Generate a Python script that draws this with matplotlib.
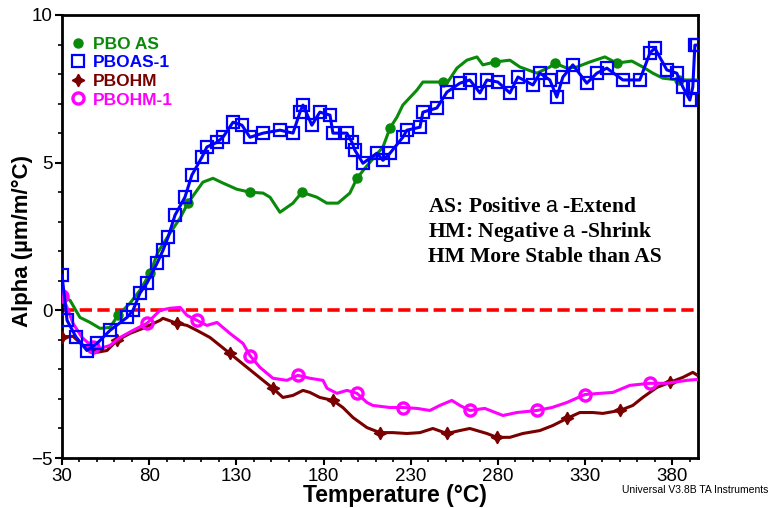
import numpy as np
import matplotlib
matplotlib.use("Agg")
import matplotlib.pyplot as plt
from matplotlib.ticker import MultipleLocator

# =========================
# DATA
# =========================
pbo_as_T = [30, 34.6, 40.3, 46.1, 51.8, 57.5, 62.1, 69.0, 74.7, 80.5, 85.0, 91.9, 97.7,
            102.2, 110.8, 116.6, 122.3, 130.3, 137.8, 145.3, 149.3, 155.0, 162.5, 167.6,
            176.2, 181.9, 188.3, 195.1, 199.2, 203.7, 214.1, 218.1, 222.1, 225.5, 233.6,
            237.0, 248.5, 250.8, 256.5, 262.2, 268.0, 271.4, 278.3, 286.9, 292.6, 302.4,
            309.8, 312.7, 319.6, 325.3, 332.8, 341.4, 348.2, 356.8, 363.1, 368.9, 374.6,
            384.0, 394.5]
pbo_as_A = [0.45, 0.34, -0.24, -0.41, -0.61, -0.58, -0.17, 0.24, 0.68, 1.25, 1.97, 2.61, 3.12,
            3.63, 4.34, 4.47, 4.31, 4.10, 4.0, 3.97, 3.83, 3.32, 3.63, 4.0,
            3.83, 3.63, 3.63, 3.97, 4.47, 4.81, 5.53, 6.17, 6.54, 6.95, 7.46,
            7.73, 7.73, 7.69, 8.2, 8.47, 8.58, 8.31, 8.41, 8.47, 8.24, 8.03,
            8.24, 8.37, 8.2, 8.24, 8.41, 8.58, 8.37, 8.44, 8.24, 8.03, 7.86,
            7.8, 7.8]

pboas1_T = [30, 32.9, 38.0, 44.3, 50.1, 57.5, 67.3, 70.7, 74.7, 78.7, 84.5, 87.9, 90.8, 94.8,
            100.5, 104.5, 110.3, 113.1, 118.9, 122.3, 128.1, 133.2, 137.8, 145.3, 155.0,
            162.5, 166.5, 168.2, 173.3, 177.9, 183.7, 185.4, 193.4, 196.3, 198.0, 202.6,
            210.6, 214.1, 218.1, 225.5, 227.8, 235.3, 237.0, 245.0, 250.8, 258.2, 263.9,
            269.7, 273.7, 280.0, 286.9, 291.5, 300.1, 304.1, 309.8, 313.8, 317.3, 323.0,
            331.0, 336.8, 342.5, 351.7, 361.4, 367.2, 370.0, 376.9, 382.6, 386.1, 390.1,
            391.8, 393.0, 394.5]
pboas1_A = [1.19, -0.34, -0.9, -1.36, -1.12, -0.68, -0.24, 0.0, 0.58, 0.92, 1.59, 2.03, 2.47, 3.22,
            3.83, 4.58, 5.19, 5.53, 5.69, 5.86, 6.37, 6.27, 5.86, 6.0, 6.1,
            6.0, 6.71, 6.95, 6.27, 6.71, 6.61, 6.0, 6.0, 5.69, 5.42, 4.98,
            5.32, 5.08, 5.32, 5.86, 6.1, 6.2, 6.71, 6.85, 7.39, 7.69, 7.8,
            7.36, 7.8, 7.73, 7.36, 7.9, 7.63, 8.03, 7.8, 7.22, 7.9, 8.31,
            7.69, 8.03, 8.2, 7.8, 7.8, 8.71, 8.88, 8.14, 8.03, 7.56, 7.12,
            7.56, 8.98, 8.98]

pbohm_T = [30, 36.3, 42.0, 50.1, 55.8, 61.5, 69.0, 76.4, 86.2, 87.9, 95.9, 101.7, 107.4, 114.9,
           126.3, 136.1, 145.3, 151.0, 156.7, 162.5, 168.2, 172.2, 177.9, 185.4, 191.1,
           196.9, 204.9, 212.3, 219.8, 227.8, 235.3, 242.7, 250.8, 258.2, 263.9, 273.7,
           279.4, 286.9, 294.3, 304.1, 311.5, 319.6, 327.0, 334.5, 340.2, 350.0, 357.4,
           363.1, 371.2, 378.6, 386.1, 391.8, 394.5]
pbohm_A = [-0.9, -0.88, -1.19, -1.42, -1.36, -1.02, -0.78, -0.61, -0.34, -0.27, -0.44, -0.51, -0.68, -0.92,
           -1.46, -1.93, -2.37, -2.64, -2.95, -2.88, -2.71, -2.78, -2.95, -3.05, -3.29,
           -3.63, -3.97, -4.14, -4.14, -4.17, -4.14, -4.0, -4.17, -4.07, -4.0, -4.17,
           -4.3, -4.3, -4.17, -4.07, -3.9, -3.66, -3.46, -3.46, -3.49, -3.39, -3.22,
           -2.95, -2.61, -2.44, -2.27, -2.1, -2.2]

pbohm1_T = [30, 32.9, 36.3, 41.5, 47.8, 51.8, 57.5, 63.3, 70.7, 78.7, 86.2, 91.9, 97.7, 101.7,
            107.4, 113.1, 118.9, 126.3, 133.8, 137.8, 143.5, 151.0, 159.0, 165.3, 172.2,
            179.7, 182.0, 187.7, 193.4, 199.2, 204.9, 208.3, 218.1, 225.5, 233.6, 241.0,
            246.7, 253.6, 258.2, 263.9, 272.5, 282.9, 290.9, 302.4, 311.0, 319.6, 329.9,
            338.5, 345.9, 355.7, 367.2, 376.9, 388.4, 394.5]
pbohm1_A = [0.5, 0.1, -0.44, -0.92, -1.25, -1.29, -1.19, -0.92, -0.68, -0.44, 0.0, 0.07, 0.1, -0.17,
            -0.34, -0.51, -0.41, -0.78, -1.12, -1.53, -1.93, -2.3, -2.37, -2.2, -2.3,
            -2.37, -2.64, -2.81, -2.71, -2.81, -3.12, -3.22, -3.29, -3.29, -3.32, -3.39,
            -3.22, -3.05, -3.22, -3.39, -3.32, -3.56, -3.46, -3.39, -3.29, -3.12, -2.85,
            -2.81, -2.78, -2.54, -2.47, -2.47, -2.37, -2.34]

x_ticks = [30, 80, 130, 180, 230, 280, 330, 380]
y_ticks = [-5, 0, 5, 10]

NOTE_LINES = ["AS: Positive $\\mathsf{a}$ -Extend",
              "HM: Negative $\\mathsf{a}$ -Shrink",
              "HM More Stable than AS"]

# =========================
# STYLE
# =========================
plt.rcParams["font.family"] = ["Liberation Sans", "DejaVu Sans"]
plt.rcParams["mathtext.fontset"] = "custom"
plt.rcParams["mathtext.sf"] = "Liberation Sans"

GREEN = "#0a8a0a"
BLUE = "#0000ff"
BROWN = "#7a0000"
MAGENTA = "#ff00ff"

fig = plt.figure(figsize=(7.78, 5.08), dpi=100)
ax = fig.add_axes([0.0797, 0.0984, 0.8175, 0.8721])

ax.axhline(0, color="#ff0000", lw=2.6, dashes=(3.4, 1.5), zorder=1)

ax.plot(pbo_as_T, pbo_as_A, color=GREEN, lw=2.2,
        marker="o", ms=6.5, markevery=0.09, label="PBO AS", zorder=3)
ax.plot(pboas1_T, pboas1_A, color=BLUE, lw=2.2,
        marker="s", ms=9, mfc="none", mew=1.6, markevery=1, label="PBOAS-1", zorder=4)
ax.plot(pbohm_T, pbohm_A, color=BROWN, lw=2.2,
        marker=(4, 1, 0), ms=9, markevery=0.08, label="PBOHM", zorder=3)
ax.plot(pbohm1_T, pbohm1_A, color=MAGENTA, lw=2.2,
        marker="o", ms=8, mfc="none", mew=2.4, markevery=0.08, label="PBOHM-1", zorder=3)

ax.set_xlim(30, 394.8)
ax.set_ylim(-5, 10)
ax.set_xticks(x_ticks)
ax.set_yticks(y_ticks)
ax.xaxis.set_minor_locator(MultipleLocator(10))
ax.yaxis.set_minor_locator(MultipleLocator(1))
ax.tick_params(which="major", direction="out", length=5, width=1.5, labelsize=13.5, pad=2)
ax.tick_params(which="minor", direction="out", length=3, width=1.2)
for sp in ax.spines.values():
    sp.set_linewidth(2)

ax.set_xlabel("Temperature (°C)", fontsize=16.5, fontweight="bold")
ax.xaxis.set_label_coords(0.524, -0.058)
ax.set_ylabel("Alpha (µm/m/°C)", fontsize=16, fontweight="bold")
ax.yaxis.set_label_coords(-0.045, 0.49)

leg = ax.legend(loc="upper left", bbox_to_anchor=(0.0, 0.975), frameon=False,
                handlelength=0.6, handletextpad=0.6, borderaxespad=0.2,
                labelspacing=0.2, prop={"size": 12.5, "weight": "bold"})
for h in leg.legend_handles:
    h.set_linestyle("none")
for txt, c in zip(leg.get_texts(), [GREEN, BLUE, BROWN, MAGENTA]):
    txt.set_color(c)

for i, line in enumerate(NOTE_LINES):
    ax.text(0.5755, 0.5666 - i * 0.0564, line, transform=ax.transAxes,
            fontsize=15.5, fontweight="bold", family=["Liberation Serif", "DejaVu Serif"],
            va="center", ha="left")

fig.text(0.987, 0.035, "Universal V3.8B TA Instruments", fontsize=7.5,
         ha="right", va="center")

fig.savefig("out.png", dpi=100)
